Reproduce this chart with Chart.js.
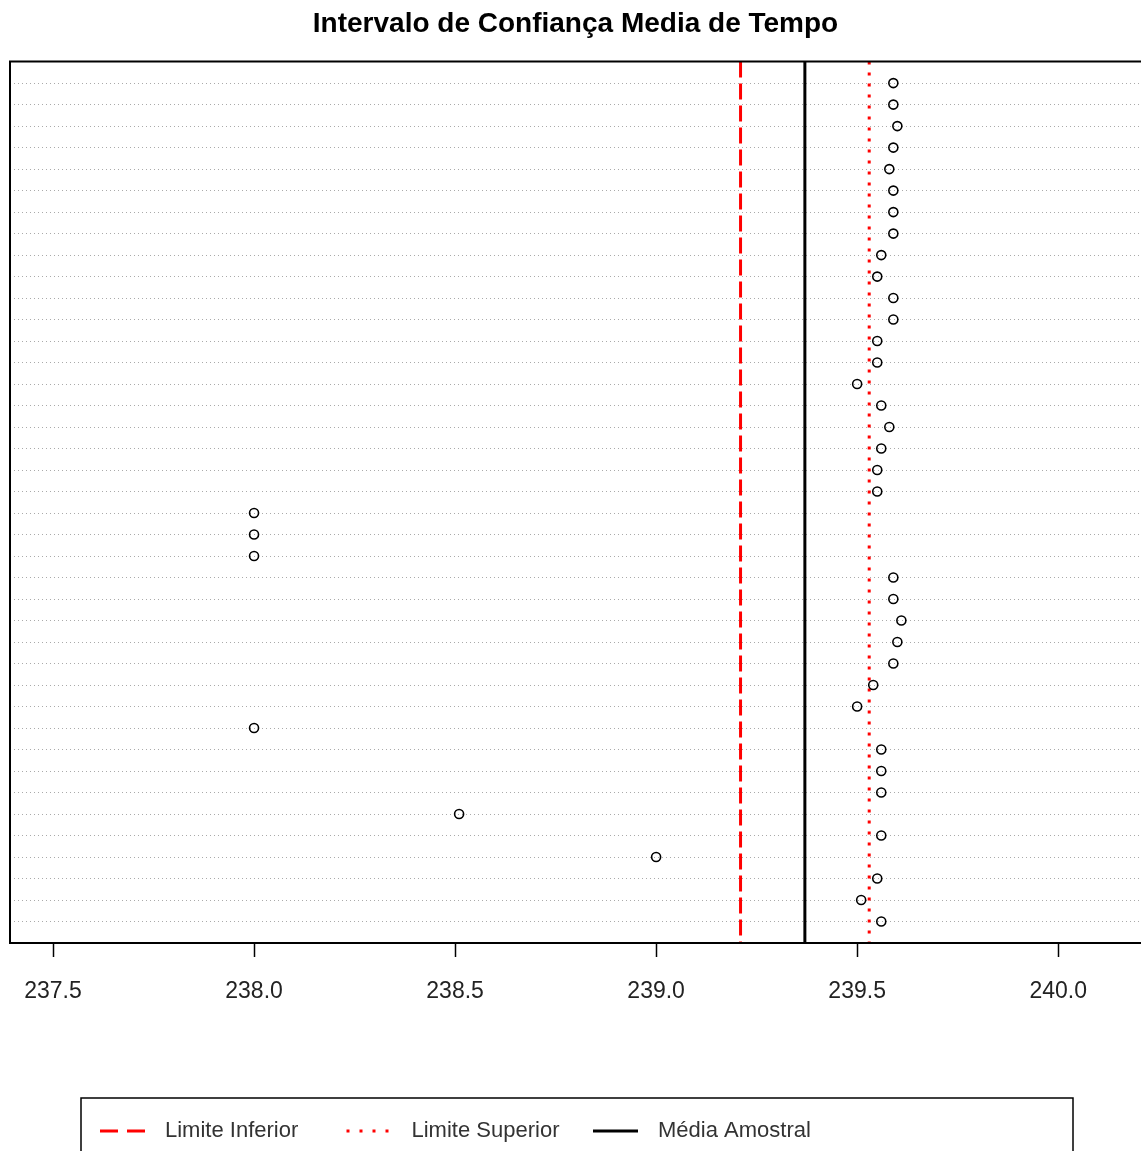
<!DOCTYPE html>
<html>
<head>
<meta charset="utf-8">
<script src="https://cdn.jsdelivr.net/npm/chart.js@4/dist/chart.umd.min.js"></script>
<style>
  html, body { margin: 0; padding: 0; background: #fff; overflow: hidden; }
  #wrap { width: 1141px; height: 1151px; position: relative; }
</style>
</head>
<body>
<div id="wrap"><canvas id="ciChart"></canvas></div>
<script>
// sample means, one per row (top row first)
const rowValues = [
  239.59, 239.59, 239.60, 239.59, 239.58, 239.59, 239.59, 239.59, 239.56, 239.55,
  239.59, 239.59, 239.55, 239.55, 239.50, 239.56, 239.58, 239.56, 239.55, 239.55,
  238.00, 238.00, 238.00, 239.59, 239.59, 239.61, 239.60, 239.59, 239.54, 239.50,
  238.00, 239.56, 239.56, 239.56, 238.51, 239.56, 239.00, 239.55, 239.51, 239.56
];
const xTicks = [237.5, 238.0, 238.5, 239.0, 239.5, 240.0];
const xMin = 237.393;
const xMax = 240.206;
const limiteInferior = 239.21;
const limiteSuperior = 239.53;
const mediaAmostral = 239.37;
const legendLabels = ['Limite Inferior', 'Limite Superior', 'Média Amostral'];

const nRows = rowValues.length;
const fontFamily = "'Liberation Sans', Arial, sans-serif";

function vline(value) {
  // vertical line spanning the whole y range
  return [{x: value, y: 0}, {x: value, y: nRows + 1}];
}

const frame_plugin = {
  id: 'frame',
  afterDraw(chart) {
    const ctx = chart.ctx;
    const a = chart.chartArea;
    ctx.save();
    ctx.strokeStyle = '#000';
    ctx.lineWidth = 2;
    ctx.beginPath();
    ctx.moveTo(a.right + 5, a.top);
    ctx.lineTo(a.left, a.top);
    ctx.lineTo(a.left, a.bottom);
    ctx.lineTo(a.right + 5, a.bottom);
    ctx.stroke();
    ctx.restore();
  }
};

const legend_plugin = {
  id: 'boxLegend',
  afterDraw(chart) {
    const ctx = chart.ctx;
    ctx.save();
    // legend frame (bottom edge falls outside the picture)
    ctx.strokeStyle = '#000';
    ctx.lineWidth = 1.5;
    ctx.strokeRect(81, 1098, 992, 80);
    let x = 100;
    const y = 1131;
    chart.data.datasets.forEach(ds => {
      if (!ds.inLegend) return;
      ctx.strokeStyle = ds.borderColor;
      ctx.lineWidth = 3;
      ctx.setLineDash(ds.legendDash);
      ctx.beginPath();
      ctx.moveTo(x, y);
      ctx.lineTo(x + 45, y);
      ctx.stroke();
      ctx.setLineDash([]);
      ctx.fillStyle = '#333';
      ctx.font = '22px ' + fontFamily;
      ctx.textBaseline = 'middle';
      ctx.textAlign = 'left';
      ctx.fillText(ds.label, x + 65, y);
      x += 246.5;
    });
    ctx.restore();
  }
};

const config = {
  type: 'scatter',
  data: {
    datasets: [
      {
        label: 'Média',
        data: rowValues.map((v, i) => ({x: v, y: i + 1})),
        pointStyle: 'circle',
        pointRadius: 4.5,
        pointBorderWidth: 1.6,
        borderColor: '#000',
        backgroundColor: 'rgba(0,0,0,0)',
        showLine: false
      },
      {
        label: legendLabels[0],
        data: vline(limiteInferior),
        showLine: true,
        borderColor: '#ff0000',
        borderWidth: 3,
        borderDash: [16, 6],
        legendDash: [18, 9],
        pointRadius: 0,
        inLegend: true
      },
      {
        label: legendLabels[1],
        data: vline(limiteSuperior),
        showLine: true,
        borderColor: '#ff0000',
        borderWidth: 3,
        borderDash: [3, 8],
        legendDash: [3, 10],
        pointRadius: 0,
        inLegend: true
      },
      {
        label: legendLabels[2],
        data: vline(mediaAmostral),
        showLine: true,
        borderColor: '#000',
        borderWidth: 3,
        borderDash: [],
        legendDash: [],
        pointRadius: 0,
        inLegend: true
      }
    ]
  },
  options: {
    responsive: true,
    maintainAspectRatio: false,
    animation: false,
    events: [],
    layout: {
      autoPadding: false,
      padding: {top: 0, left: 10, right: 0, bottom: 148}
    },
    plugins: {
      legend: {display: false},
      tooltip: {enabled: false},
      title: {
        display: true,
        fullSize: false,
        text: 'Intervalo de Confiança Media de Tempo',
        color: '#000',
        font: {family: fontFamily, size: 28, weight: 'bold'},
        padding: {top: 7, bottom: 21}
      }
    },
    scales: {
      x: {
        type: 'linear',
        min: xMin,
        max: xMax,
        afterBuildTicks: axis => { axis.ticks = xTicks.map(v => ({value: v})); },
        afterFit: axis => {
          axis.height = 60;
          axis.paddingLeft = 0;
          axis.paddingRight = 0;
        },
        grid: {
          drawOnChartArea: false,
          drawTicks: true,
          tickLength: 14,
          tickColor: '#000',
          tickWidth: 1.5
        },
        border: {display: false},
        ticks: {
          color: '#222',
          padding: 21,
          maxRotation: 0,
          font: {family: fontFamily, size: 23},
          callback: v => v.toFixed(1)
        }
      },
      y: {
        type: 'linear',
        min: 0,
        max: nRows + 1,
        reverse: true,
        afterBuildTicks: axis => { axis.ticks = rowValues.map((v, i) => ({value: i + 1})); },
        afterFit: axis => {
          axis.width = 0;
          axis.paddingTop = 0;
          axis.paddingBottom = 0;
        },
        grid: {
          color: '#aaaaaa',
          lineWidth: 1,
          drawTicks: false
        },
        border: {display: false, dash: [1, 3]},
        ticks: {display: false}
      }
    }
  },
  plugins: [frame_plugin, legend_plugin]
};

new Chart(document.getElementById('ciChart').getContext('2d'), config);
</script>
</body>
</html>
